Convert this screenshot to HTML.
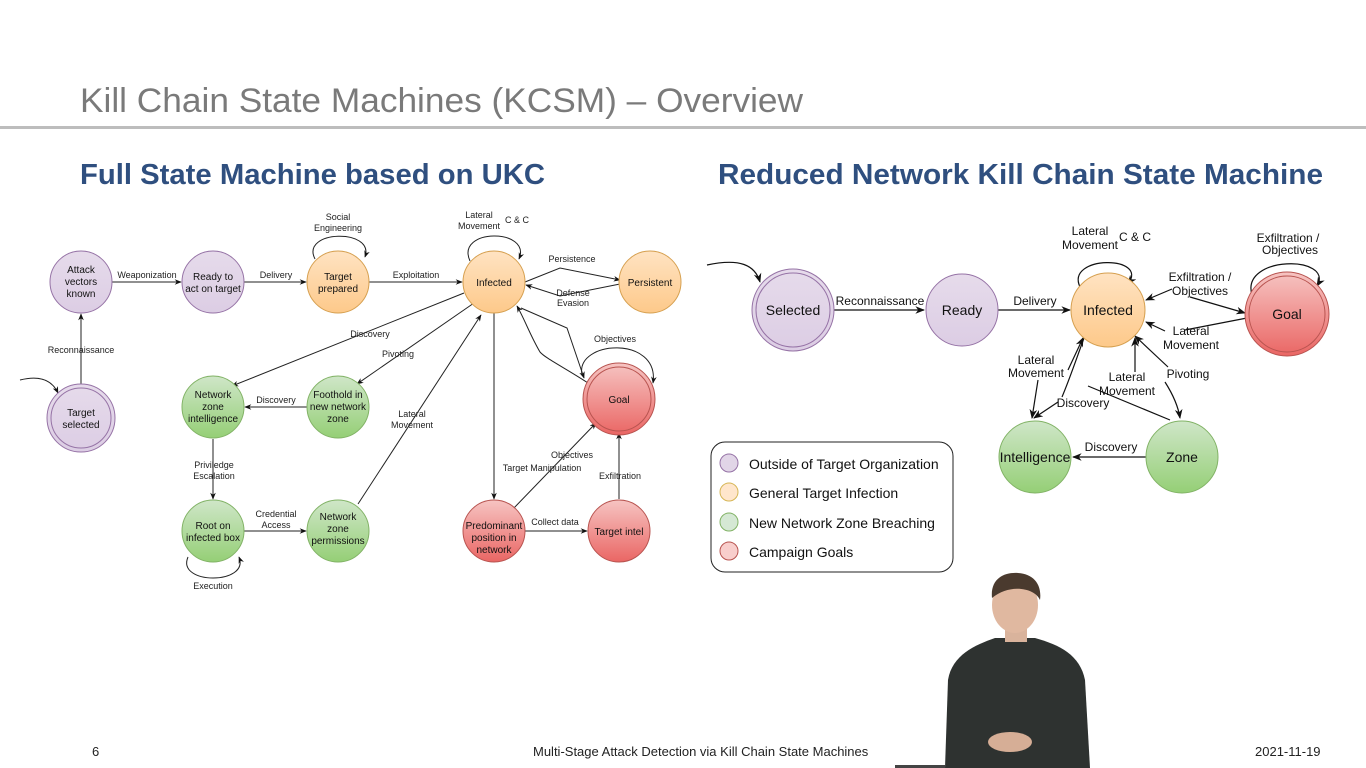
<!DOCTYPE html>
<html><head><meta charset="utf-8"><style>
html,body{margin:0;padding:0;background:#fff;}
svg{display:block}
text{font-family:"Liberation Sans",Arial,sans-serif;}
</style></head><body>
<svg width="1366" height="768" viewBox="0 0 1366 768" xmlns="http://www.w3.org/2000/svg">
<defs>
<linearGradient id="gp" x1="0" y1="0" x2="0" y2="1"><stop offset="0" stop-color="#e6dbeb"/><stop offset="1" stop-color="#dccde4"/></linearGradient>
<linearGradient id="go" x1="0" y1="0" x2="0" y2="1"><stop offset="0" stop-color="#ffe3c2"/><stop offset="1" stop-color="#fdc98a"/></linearGradient>
<linearGradient id="gg" x1="0" y1="0" x2="0" y2="1"><stop offset="0" stop-color="#cfe6c8"/><stop offset="1" stop-color="#95cf76"/></linearGradient>
<linearGradient id="gr" x1="0" y1="0" x2="0" y2="1"><stop offset="0" stop-color="#f6c4c2"/><stop offset="1" stop-color="#ea6664"/></linearGradient>
<marker id="a" viewBox="0 0 10 10" refX="9" refY="5" markerWidth="7" markerHeight="7" orient="auto-start-reverse"><path d="M0,1 L10,5 L0,9 L3,5 z" fill="#111"/></marker>
<marker id="b" viewBox="0 0 10 10" refX="9" refY="5" markerWidth="8" markerHeight="8" orient="auto"><path d="M0,1 L10,5 L0,9 L3,5 z" fill="#111"/></marker>
</defs>
<rect width="1366" height="768" fill="#fff"/>
<text x="80" y="112" font-size="34" fill="#7a7a7a" textLength="723" lengthAdjust="spacingAndGlyphs">Kill Chain State Machines (KCSM) – Overview</text>
<rect x="0" y="126" width="1366" height="3" fill="#bdbdbd"/>
<text x="80" y="184" font-size="29" font-weight="bold" fill="#2f4f7f" textLength="465" lengthAdjust="spacingAndGlyphs">Full State Machine based on UKC</text>
<text x="718" y="184" font-size="29" font-weight="bold" fill="#2f4f7f" textLength="605" lengthAdjust="spacingAndGlyphs">Reduced Network Kill Chain State Machine</text>

<!-- LEFT edges -->
<g stroke="#222" stroke-width="1" fill="none" marker-end="url(#a)">
<path d="M112,282 H181"/><path d="M244,282 H306"/><path d="M369,282 H462"/>
<path d="M81,384 V314"/>
<path d="M20,380 C40,375 52,380 58,393"/>
<path d="M315,259 C300,230 375,228 365,257"/>
<path d="M470,261 C455,228 532,228 519,259"/>
<path d="M525,282 L560,268 L620,280"/>
<path d="M620,284 L560,296 L526,285"/>
<path d="M464,293 L232,386"/>
<path d="M474,303 L357,384"/>
<path d="M307,407 H245"/>
<path d="M213,439 V499"/>
<path d="M244,531 H306"/>
<path d="M188,557 C176,585 250,585 239,557"/>
<path d="M358,504 L481,315"/>
<path d="M494,313 V499"/>
<path d="M525,531 H587"/>
<path d="M513,509 L596,423"/>
<path d="M619,499 V433"/>
<path d="M588,383 C565,368 545,358 540,352 C530,335 525,320 517,306"/>
<path d="M521,308 L567,328 L584,378"/>
<path d="M582,375 C575,340 660,335 653,383"/>
</g>

<!-- LEFT nodes -->
<g stroke-width="1">
<circle cx="81" cy="282" r="31" fill="url(#gp)" stroke="#9673a6"/>
<circle cx="213" cy="282" r="31" fill="url(#gp)" stroke="#9673a6"/>
<circle cx="81" cy="418" r="34" fill="url(#gp)" stroke="#9673a6"/><circle cx="81" cy="418" r="30" fill="none" stroke="#9673a6"/>
<circle cx="338" cy="282" r="31" fill="url(#go)" stroke="#d6a050"/>
<circle cx="494" cy="282" r="31" fill="url(#go)" stroke="#d6a050"/>
<circle cx="650" cy="282" r="31" fill="url(#go)" stroke="#d6a050"/>
<circle cx="213" cy="407" r="31" fill="url(#gg)" stroke="#82b366"/>
<circle cx="338" cy="407" r="31" fill="url(#gg)" stroke="#82b366"/>
<circle cx="213" cy="531" r="31" fill="url(#gg)" stroke="#82b366"/>
<circle cx="338" cy="531" r="31" fill="url(#gg)" stroke="#82b366"/>
<circle cx="619" cy="399" r="36" fill="url(#gr)" stroke="#b85450"/><circle cx="619" cy="399" r="32" fill="none" stroke="#b85450"/>
<circle cx="494" cy="531" r="31" fill="url(#gr)" stroke="#b85450"/>
<circle cx="619" cy="531" r="31" fill="url(#gr)" stroke="#b85450"/>
</g>
<g font-size="10" fill="#111" text-anchor="middle">
<text x="81" y="273">Attack</text><text x="81" y="285">vectors</text><text x="81" y="297">known</text>
<text x="213" y="280">Ready to</text><text x="213" y="292">act on target</text>
<text x="338" y="280">Target</text><text x="338" y="292">prepared</text>
<text x="494" y="286">Infected</text>
<text x="650" y="286">Persistent</text>
<text x="81" y="416">Target</text><text x="81" y="428">selected</text>
<text x="213" y="398">Network</text><text x="213" y="410">zone</text><text x="213" y="422">intelligence</text>
<text x="338" y="398">Foothold in</text><text x="338" y="410">new network</text><text x="338" y="422">zone</text>
<text x="213" y="529">Root on</text><text x="213" y="541">infected box</text>
<text x="338" y="520">Network</text><text x="338" y="532">zone</text><text x="338" y="544">permissions</text>
<text x="619" y="403">Goal</text>
<text x="494" y="529">Predominant</text><text x="494" y="541">position in</text><text x="494" y="553">network</text>
<text x="619" y="535">Target intel</text>
</g>
<g font-size="9" fill="#222" text-anchor="middle">
<text x="147" y="278">Weaponization</text>
<text x="276" y="278">Delivery</text>
<text x="416" y="278">Exploitation</text>
<text x="338" y="220">Social</text><text x="338" y="231">Engineering</text>
<text x="479" y="218">Lateral</text><text x="479" y="229">Movement</text><text x="517" y="223">C &amp; C</text>
<text x="572" y="262">Persistence</text>
<text x="573" y="296">Defense</text><text x="573" y="306">Evasion</text>
<text x="81" y="353">Reconnaissance</text>
<text x="370" y="337">Discovery</text>
<text x="398" y="357">Pivoting</text>
<text x="276" y="403">Discovery</text>
<text x="412" y="417">Lateral</text><text x="412" y="428">Movement</text>
<text x="214" y="468">Priviledge</text><text x="214" y="479">Escalation</text>
<text x="276" y="517">Credential</text><text x="276" y="528">Access</text>
<text x="213" y="589">Execution</text>
<text x="615" y="342">Objectives</text>
<text x="572" y="458">Objectives</text>
<text x="542" y="471">Target Manipulation</text>
<text x="620" y="479">Exfiltration</text>
<text x="555" y="525">Collect data</text>
</g>

<!-- RIGHT edges -->
<g stroke="#111" stroke-width="1.2" fill="none">
<path d="M707,265 C740,258 755,265 760,282" marker-end="url(#b)"/>
<path d="M833,310 H924" marker-end="url(#b)"/>
<path d="M998,310 H1070" marker-end="url(#b)"/>
<path d="M1080,287 C1065,255 1150,255 1128,284" marker-end="url(#b)"/>
<path d="M1252,295 C1240,255 1335,255 1317,286" marker-end="url(#b)"/>
<path d="M1172,289 L1146,300" marker-end="url(#b)"/>
<path d="M1190,297 L1245,313" marker-end="url(#b)"/>
<path d="M1247,318 L1185,330"/>
<path d="M1165,331 L1146,322" marker-end="url(#b)"/>
<path d="M1168,367 L1135,336" marker-end="url(#b)"/>
<path d="M1165,382 C1172,393 1178,405 1180,418" marker-end="url(#b)"/>
<path d="M1135,372 V338" marker-end="url(#b)"/>
<path d="M1088,386 L1170,420"/>
<path d="M1068,370 L1083,338" marker-end="url(#b)"/>
<path d="M1038,380 L1032,418" marker-end="url(#b)"/>
<path d="M1058,402 L1034,418" marker-end="url(#b)"/>
<path d="M1062,397 C1070,378 1076,360 1084,338"/>
<path d="M1146,457 H1073" marker-end="url(#b)"/>
</g>
<!-- RIGHT nodes -->
<circle cx="793" cy="310" r="41" fill="url(#gp)" stroke="#9673a6"/><circle cx="793" cy="310" r="37" fill="none" stroke="#9673a6"/>
<circle cx="962" cy="310" r="36" fill="url(#gp)" stroke="#9673a6"/>
<circle cx="1108" cy="310" r="37" fill="url(#go)" stroke="#d6a050"/>
<circle cx="1287" cy="314" r="42" fill="url(#gr)" stroke="#b85450"/><circle cx="1287" cy="314" r="38" fill="none" stroke="#b85450"/>
<circle cx="1035" cy="457" r="36" fill="url(#gg)" stroke="#82b366"/>
<circle cx="1182" cy="457" r="36" fill="url(#gg)" stroke="#82b366"/>
<g font-size="14" fill="#111" text-anchor="middle">
<text x="793" y="315">Selected</text><text x="962" y="315">Ready</text><text x="1108" y="315">Infected</text>
<text x="1287" y="319">Goal</text><text x="1035" y="462">Intelligence</text><text x="1182" y="462">Zone</text>
</g>
<g font-size="12" fill="#111" text-anchor="middle">
<text x="880" y="305">Reconnaissance</text>
<text x="1035" y="305">Delivery</text>
<text x="1090" y="235">Lateral</text><text x="1090" y="249">Movement</text><text x="1135" y="241">C &amp; C</text>
<text x="1288" y="242">Exfiltration /</text><text x="1290" y="254">Objectives</text>
<text x="1200" y="281">Exfiltration /</text><text x="1200" y="295">Objectives</text>
<text x="1191" y="335">Lateral</text><text x="1191" y="349">Movement</text>
<text x="1036" y="364">Lateral</text><text x="1036" y="377">Movement</text>
<text x="1127" y="381">Lateral</text><text x="1127" y="395">Movement</text>
<text x="1188" y="378">Pivoting</text>
<text x="1083" y="407">Discovery</text>
<text x="1111" y="451">Discovery</text>
</g>
<rect x="711" y="442" width="242" height="130" rx="14" fill="#fff" stroke="#222" stroke-width="1"/>
<circle cx="729" cy="463" r="9" fill="#e1d5e7" stroke="#9673a6"/>
<circle cx="729" cy="492" r="9" fill="#ffe6cc" stroke="#d6b656"/>
<circle cx="729" cy="522" r="9" fill="#d5e8d4" stroke="#82b366"/>
<circle cx="729" cy="551" r="9" fill="#f8cecc" stroke="#b85450"/>
<g font-size="14" fill="#111">
<text x="749" y="469">Outside of Target Organization</text>
<text x="749" y="498">General Target Infection</text>
<text x="749" y="528">New Network Zone Breaching</text>
<text x="749" y="557">Campaign Goals</text>
</g>

<!-- presenter -->
<g>
<path d="M945,768 L948,680 C952,655 975,645 995,638 L1035,638 C1060,645 1080,655 1085,680 L1090,768 Z" fill="#2e3230"/>
<rect x="1005" y="620" width="22" height="22" fill="#d9b39c"/>
<ellipse cx="1015" cy="605" rx="23" ry="28" fill="#e0b8a0"/>
<path d="M992,598 C990,578 1005,572 1018,573 C1035,574 1042,586 1040,600 C1035,588 1010,583 992,598 Z" fill="#4a3a2e"/>
<ellipse cx="1010" cy="742" rx="22" ry="10" fill="#d6ae96"/>
<rect x="895" y="765" width="50" height="3" fill="#444"/>
</g>

<g font-size="13" fill="#222">
<text x="92" y="756">6</text>
<text x="533" y="756">Multi-Stage Attack Detection via Kill Chain State Machines</text>
<text x="1255" y="756">2021-11-19</text>
</g>
</svg>
</body></html>
